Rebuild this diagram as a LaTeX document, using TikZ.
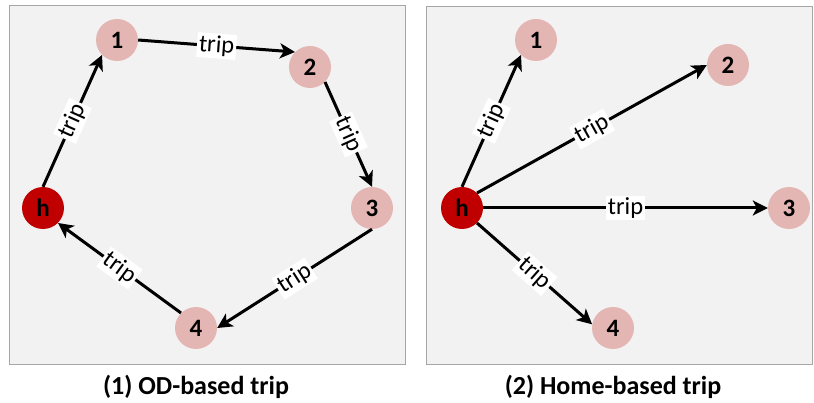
\documentclass[tikz,border=0pt]{standalone}
\usepackage{fontspec}
\setmainfont{Carlito}
\usetikzlibrary{arrows.meta}

\definecolor{panelfill}{HTML}{F2F2F2}
\definecolor{panelline}{HTML}{A6A6A6}
\definecolor{stopfill}{HTML}{E3B6B3}
\definecolor{homefill}{HTML}{C00000}

\tikzset{
  panel/.style={fill=panelfill, draw=panelline, line width=1pt},
  stop/.style={circle, fill=stopfill, minimum size=42pt, inner sep=0pt,
    font=\fontsize{25}{25}\selectfont\bfseries},
  home/.style={stop, fill=homefill},
  tripedge/.style={line width=3pt, draw=black,
    -{Stealth[length=15pt, width=15pt, inset=4pt]}},
  triplabel/.style={fill=white, inner sep=2pt, sloped, midway,
    font=\fontsize{24.5}{25}\selectfont},
  caption/.style={font=\fontsize{26}{28}\selectfont\bfseries}
}

\begin{document}
\begin{tikzpicture}[x=1pt, y=-1pt]
  \useasboundingbox (0,0) rectangle (814,403);

  % the two panels
  \path[panel] (9,6) rectangle (405,364);
  \path[panel] (426,7) rectangle (812,364);

  % OD-based trip chain
  \node[home] (lh) at (43,208) {h};
  \node[stop] (l1) at (117,40) {1};
  \node[stop] (l2) at (310,67) {2};
  \node[stop] (l3) at (372,208) {3};
  \node[stop] (l4) at (196,328) {4};

  \draw[tripedge] (lh.north) -- node[triplabel] {trip} (l1.south west);
  \draw[tripedge] (l1.east) -- node[triplabel] {trip} (l2.north west);
  \draw[tripedge] (l2.south east) -- node[triplabel] {trip} (l3.north);
  \draw[tripedge] (l3.south) -- node[triplabel] {trip} (l4.east);
  \draw[tripedge] (l4.north west) -- node[triplabel] {trip} (lh.south east);

  % home-based trips
  \node[home] (rh) at (462,208) {h};
  \node[stop] (r1) at (536,40) {1};
  \node[stop] (r2) at (728,65) {2};
  \node[stop] (r3) at (789,208) {3};
  \node[stop] (r4) at (613,328) {4};

  \draw[tripedge] (rh.north) -- node[triplabel] {trip} (r1.south west);
  \draw[tripedge] (rh.north east) -- node[triplabel] {trip} (r2.west);
  \draw[tripedge] (rh.east) -- node[triplabel] {trip} (r3.west);
  \draw[tripedge] (rh.south east) -- node[triplabel] {trip} (r4.170);

  % captions
  \node[caption] (capl) at (196,387) {(1) OD-based trip};
  \node[caption] (capr) at (613,387) {(2) Home-based trip};
\end{tikzpicture}
\end{document}
